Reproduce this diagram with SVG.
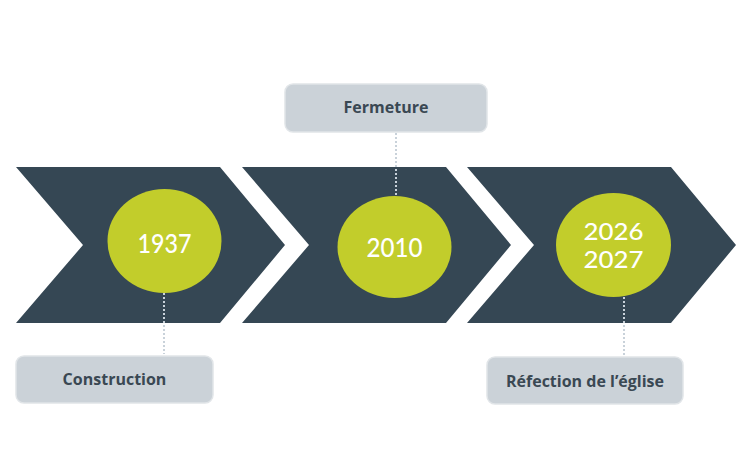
<svg xmlns="http://www.w3.org/2000/svg" width="750" height="465" viewBox="0 0 750 465">
<defs>
<style>
.chev{fill:#354754}
.dot{fill:#c2cd2b}
.year{fill:#ffffff;font-family:Lato,"Open Sans",sans-serif;font-size:27px;font-weight:500;text-anchor:middle}
.box{fill:#cbd2d8;stroke:#e1e5e8;stroke-width:1.5}
.lbl{fill:#3a4853;font-family:"Open Sans","Liberation Sans",sans-serif;font-size:16px;font-weight:700;text-anchor:middle}
.conn{stroke:#c9d2da;stroke-width:2;stroke-dasharray:2 2;fill:none}
</style>
</defs>
<rect width="750" height="465" fill="#ffffff"/>
<g id="chevrons">
<polygon class="chev" points="16,167 220,167 285,245 220,323 16,323 83,245"/>
<polygon class="chev" points="242,167 446,167 511,245 446,323 242,323 309,245"/>
<polygon class="chev" points="467,167 671,167 736,245 671,323 467,323 534,245"/>
</g>
<g id="connectors">
<line class="conn" x1="164" y1="293" x2="164" y2="354"/>
<line class="conn" x1="396" y1="133" x2="396" y2="197"/>
<line class="conn" x1="624" y1="297" x2="624" y2="355"/>
</g>
<g id="n1937">
<ellipse class="dot" cx="164.5" cy="241" rx="57" ry="52"/>
<text class="year" x="164.5" y="253" textLength="54" lengthAdjust="spacingAndGlyphs">1937</text>
</g>
<g id="n2010">
<ellipse class="dot" cx="394.5" cy="247" rx="57" ry="51"/>
<text class="year" x="394.5" y="257" textLength="56" lengthAdjust="spacingAndGlyphs">2010</text>
</g>
<g id="n2026">
<ellipse class="dot" cx="613.5" cy="245" rx="57.5" ry="52"/>
<text class="year" style="font-size:23px"><tspan x="613.5" y="240" textLength="60" lengthAdjust="spacingAndGlyphs">2026</tspan><tspan x="613.5" y="268" textLength="60" lengthAdjust="spacingAndGlyphs">2027</tspan></text>
</g>
<g id="construction">
<rect class="box" x="16" y="356" width="197" height="47" rx="8"/>
<text class="lbl" x="114.5" y="385">Construction</text>
</g>
<g id="fermeture">
<rect class="box" x="285" y="84" width="202" height="48" rx="8"/>
<text class="lbl" x="386" y="113">Fermeture</text>
</g>
<g id="refection">
<rect class="box" x="487" y="357" width="196" height="47" rx="8"/>
<text class="lbl" x="585" y="387">Réfection de l’église</text>
</g>
</svg>
